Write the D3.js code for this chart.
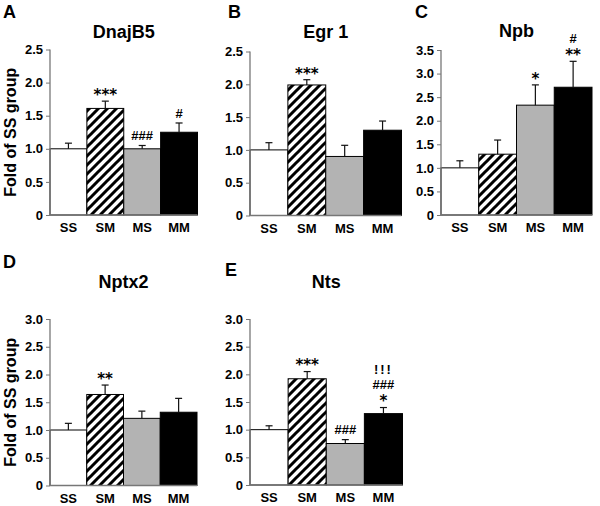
<!DOCTYPE html>
<html><head><meta charset="utf-8">
<script src="https://cdn.jsdelivr.net/npm/d3@7"></script>
<style>
html,body{margin:0;padding:0;background:#fff;}
text{font-family:"Liberation Sans",Arial,Helvetica,sans-serif;font-weight:bold;}
</style></head>
<body>
<svg id="chart" width="600" height="506"></svg>
<script>
// ---- data ----
const groups = ["SS", "SM", "MS", "MM"];
const panelLetters = ["A", "B", "C", "D", "E"];
const geneNames = ["DnajB5", "Egr 1", "Npb", "Nptx2", "Nts"];

const dnajb5Mean = [1.00, 1.61, 1.00, 1.25];
const dnajb5Err  = [0.085, 0.11, 0.05, 0.14];
const dnajb5Sig  = [[], ["***"], ["###"], ["#"]];

const egr1Mean = [1.00, 1.99, 0.90, 1.30];
const egr1Err  = [0.11, 0.08, 0.17, 0.14];
const egr1Sig  = [[], ["***"], [], []];

const npbMean = [1.00, 1.29, 2.33, 2.71];
const npbErr  = [0.15, 0.30, 0.43, 0.55];
const npbSig  = [[], [], ["*"], ["**", "#"]];

const nptx2Mean = [1.00, 1.64, 1.21, 1.32];
const nptx2Err  = [0.12, 0.17, 0.13, 0.25];
const nptx2Sig  = [[], ["**"], [], []];

const ntsMean = [1.00, 1.92, 0.75, 1.29];
const ntsErr  = [0.07, 0.13, 0.07, 0.11];
const ntsSig  = [[], ["***"], ["###"], ["*", "###", "", "!!!"]];

const yMaxes = [2.5, 2.5, 3.5, 3.0, 3.0];
const yTickStep = 0.5;
const yAxisTitle = "Fold of SS group";

// ---- layout ----
const layout = [
  {x0: 50,  x1: 197.5, yTop: 49.5, yBot: 215,   titleY: 38,  letter: [3, 18],    yTitle: true},
  {x0: 250, x1: 401.5, yTop: 51.5, yBot: 215.5, titleY: 38,  letter: [228, 18],  yTitle: false},
  {x0: 441, x1: 592,   yTop: 50,   yBot: 215,   titleY: 37,  letter: [415, 18],  yTitle: false},
  {x0: 50,  x1: 197,   yTop: 319,  yBot: 485.5, titleY: 288, letter: [3, 268],   yTitle: true},
  {x0: 250, x1: 402.5, yTop: 319,  yBot: 485,   titleY: 288, letter: [225, 276], yTitle: false}
];

const means = [dnajb5Mean, egr1Mean, npbMean, nptx2Mean, ntsMean];
const errs = [dnajb5Err, egr1Err, npbErr, nptx2Err, ntsErr];
const sigs = [dnajb5Sig, egr1Sig, npbSig, nptx2Sig, ntsSig];

const svg = d3.select("#chart");
const defs = svg.append("defs");
const P = 9;
const pat = defs.append("pattern").attr("id", "hatch")
  .attr("patternUnits", "userSpaceOnUse").attr("width", P).attr("height", P);
pat.append("rect").attr("width", P).attr("height", P).attr("fill", "#fff");
pat.append("path").attr("d", `M-2,2 L2,-2 M0,${P} L${P},0 M${P-2},${P+2} L${P+2},${P-2}`)
  .attr("stroke", "#000").attr("stroke-width", 3);

const fills = ["#ffffff", "url(#hatch)", "#b3b3b3", "#000000"];
const axisColor = "#777";

// font metrics for stacked significance marks
const starFont = {family: "DejaVu Sans", size: 15, asc: 0.928, desc: 0.236, mid: 0.59};
const symFont  = {family: "Liberation Sans", size: 13, asc: 0.905, desc: 0.212, mid: 0.355};

panelLetters.forEach((letter, i) => {
  const L = layout[i];
  const g = svg.append("g");
  const x = d3.scaleBand().domain(groups).range([L.x0, L.x1]).padding(0);
  const y = d3.scaleLinear().domain([0, yMaxes[i]]).range([L.yBot, L.yTop]);
  const ticks = d3.range(0, yMaxes[i] + 1e-9, yTickStep);

  // bars
  g.selectAll("rect.bar").data(groups).join("rect")
    .attr("x", d => x(d)).attr("width", x.bandwidth())
    .attr("y", (d, j) => y(means[i][j]))
    .attr("height", (d, j) => y(0) - y(means[i][j]))
    .attr("fill", (d, j) => fills[j])
    .attr("stroke", "#000").attr("stroke-width", 1);

  // error bars (upper only)
  const cap = 3.5;
  groups.forEach((grp, j) => {
    const cx = x(grp) + x.bandwidth() / 2;
    const yt = y(means[i][j]), ye = y(means[i][j] + errs[i][j]);
    g.append("line").attr("x1", cx).attr("x2", cx).attr("y1", yt).attr("y2", ye)
      .attr("stroke", "#111").attr("stroke-width", 1.2);
    g.append("line").attr("x1", cx - cap).attr("x2", cx + cap).attr("y1", ye).attr("y2", ye)
      .attr("stroke", "#111").attr("stroke-width", 1.2);
    // significance annotations, stacked upwards without overlapping boxes
    let prevTop = Infinity;
    sigs[i][j].forEach((s, k) => {
      if (!s) return;
      const f = s[0] === "*" ? starFont : symFont;
      const center = ye - 10 - k * 9;
      let base = center + f.mid * f.size;
      const bottomLimit = prevTop - 0.8;
      if (base + f.desc * f.size > bottomLimit) base = bottomLimit - f.desc * f.size;
      prevTop = base - f.asc * f.size;
      g.append("text").attr("x", cx).attr("y", base)
        .attr("text-anchor", "middle")
        .style("font-family", f.family).attr("font-size", f.size)
        .attr("letter-spacing", s[0] === "!" ? 2 : 0)
        .text(s);
    });
  });

  // y axis
  const yAxis = d3.axisLeft(y).tickValues(ticks).tickSize(4).tickPadding(3)
    .tickFormat(v => v === 0 ? "0" : d3.format(".1f")(v));
  const ya = g.append("g").attr("transform", `translate(${L.x0},0)`).call(yAxis);
  ya.select(".domain").attr("stroke", axisColor).attr("stroke-width", 1.3)
    .attr("d", `M0,${L.yBot}V${L.yTop}`);
  ya.selectAll(".tick line").attr("stroke", axisColor);
  ya.selectAll(".tick text").attr("font-size", 13).attr("fill", "#000")
    .attr("font-family", "Liberation Sans, Arial, sans-serif").attr("font-weight", "bold");

  // x baseline
  g.append("line").attr("x1", L.x0).attr("x2", L.x1).attr("y1", y(0)).attr("y2", y(0))
    .attr("stroke", axisColor).attr("stroke-width", 1.3);

  // x labels
  g.selectAll("text.xl").data(groups).join("text")
    .attr("x", d => x(d) + x.bandwidth() / 2).attr("y", L.yBot + 17)
    .attr("text-anchor", "middle").attr("font-size", 13).text(d => d);

  // title
  g.append("text").attr("x", (L.x0 + L.x1) / 2).attr("y", L.titleY)
    .attr("text-anchor", "middle").attr("font-size", 18).text(geneNames[i]);

  // panel letter
  g.append("text").attr("x", L.letter[0]).attr("y", L.letter[1])
    .attr("font-size", 18).text(letter);

  // y-axis title
  if (L.yTitle) {
    g.append("text")
      .attr("transform", `translate(16,${(L.yTop + L.yBot) / 2}) rotate(-90)`)
      .attr("text-anchor", "middle").attr("font-size", 16).text(yAxisTitle);
  }
});
</script>
</body></html>
